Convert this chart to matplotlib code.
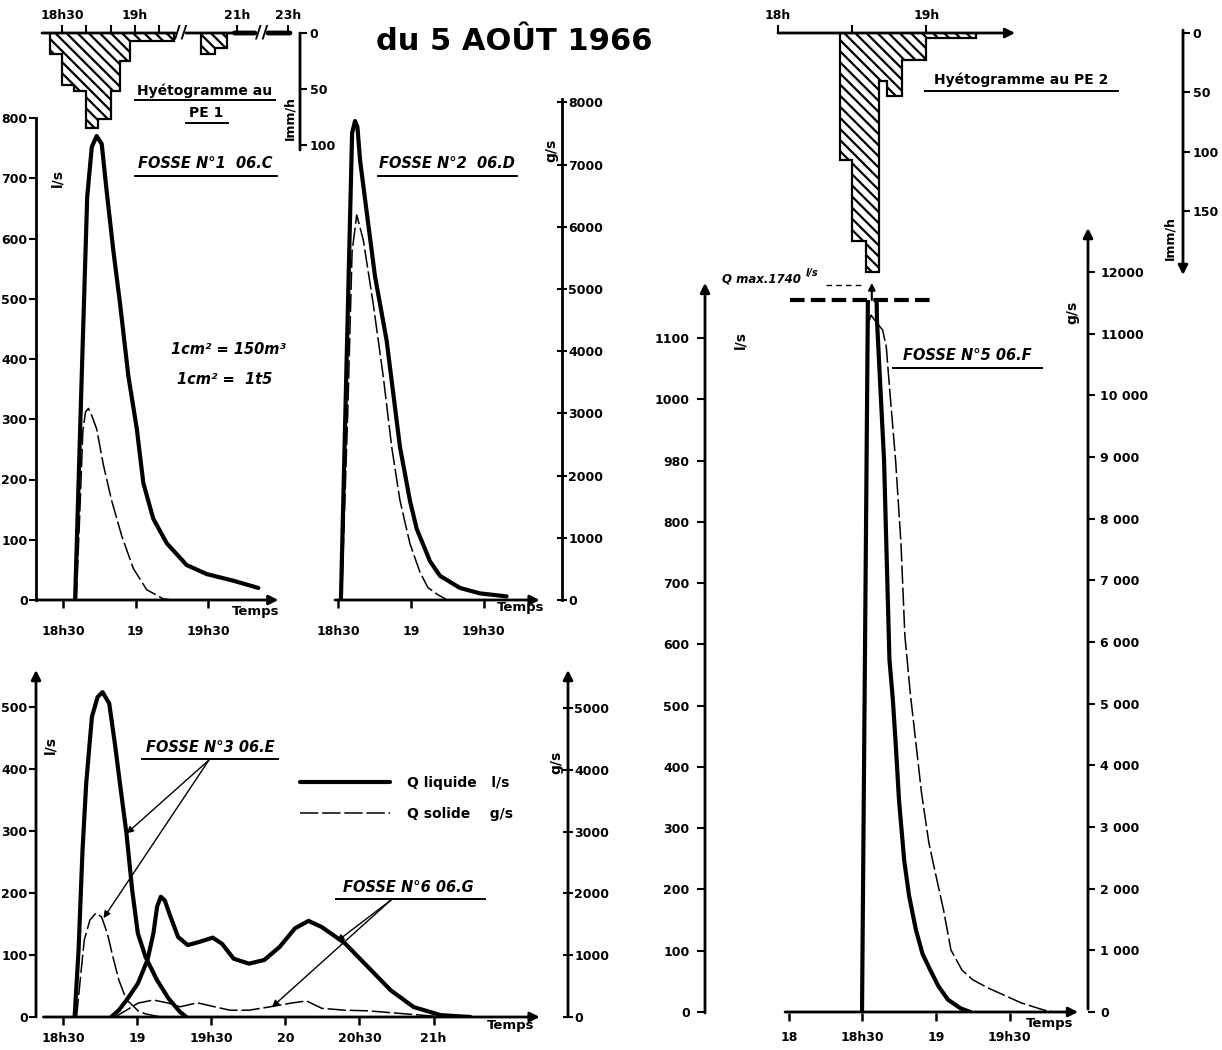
import numpy as np
import matplotlib
matplotlib.use("Agg")
import matplotlib.pyplot as plt
from matplotlib.lines import Line2D

plt.rcParams['font.family'] = ['DejaVu Sans']
plt.rcParams['font.weight'] = 'bold'
plt.rcParams['hatch.linewidth'] = 1.6

W, H = 1222, 1050

# ---- data : time in minutes after 18h00, Q liquide in l/s, Q solide in g/s ----
# hyetogrammes (mm/h)
pe1_edges = [25, 30, 35, 40, 45, 50, 54, 58, 76]
pe1_mmh = [19, 46, 52, 85, 77, 52, 25, 7.5]
pe1_late_edges = [165, 171, 176]
pe1_late_mmh = [19, 13]
pe2_edges = [25, 30, 35.5, 41, 44, 50, 60, 80]
pe2_mmh = [107, 175, 201, 40, 53, 23, 4]

# fosse 1  06.C
f1_t = [35, 37.5, 40, 41.9, 43.9, 46, 48, 50.8, 53.6, 57, 60.5, 63.2, 67.3, 72.9, 81.1, 89.4, 100.4, 110.7]
f1_q = [0, 340, 669, 752, 770, 757, 680, 580, 491, 372, 284, 194, 135, 94, 58, 43, 32, 20]
f1_ts = [35.5, 37, 38.2, 39.3, 40.5, 42, 43.9, 46.7, 50.1, 54.3, 59.1, 64.6, 71.4, 75]
f1_s = [0, 1500, 2800, 3120, 3180, 3050, 2840, 2240, 1650, 1060, 520, 170, 20, 0]

# fosse 2  06.D
f2_t = [31.2, 33.5, 35.8, 37, 38, 39.1, 42, 45.2, 50, 55.5, 59.6, 62.4, 67.9, 72, 80.2, 88.4, 99.4]
f2_q = [0, 390, 775, 795, 785, 729, 638, 538, 431, 254, 165, 118, 64, 40, 20, 11, 6]
f2_ts = [31.5, 34, 35.8, 37.7, 40.4, 44.5, 48.6, 52.1, 55.5, 59.6, 63.7, 67, 71.3, 75]
f2_s = [0, 3000, 5600, 6190, 5790, 4760, 3600, 2460, 1600, 907, 450, 200, 80, 0]

# fosse 3  06.E
f3_t = [34.7, 36.3, 37.9, 39.4, 41.7, 44, 46, 48.7, 51, 53.4, 55.7, 58, 60.3, 63.4, 68, 72.7, 77.4, 80]
f3_q = [0, 108, 269, 377, 484, 516, 524, 506, 441, 366, 296, 205, 135, 97, 60, 30, 8, 0]
f3_ts = [35.5, 37.1, 38.6, 40.9, 43.3, 45.6, 47.9, 50.2, 52.6, 55.7, 57.2, 60.4, 63.4, 69.6]
f3_s = [0, 650, 1245, 1570, 1680, 1620, 1360, 975, 600, 275, 225, 100, 50, 0]

# fosse 6  06.G
f6_t = [49.5, 52.6, 55.7, 60.3, 64.2, 66.6, 68.1, 69.6, 71.2, 73.5, 76.6, 80.5, 85.1, 90.6, 94.4,
        99.1, 105.3, 111.5, 117.7, 123.9, 129.4, 134.8, 144.1, 153.4, 162.7, 172, 182.9, 195]
f6_q = [0, 11, 27, 54, 92, 135, 178, 194, 188, 162, 129, 116, 121, 128, 118,
        94, 86, 92, 113, 143, 155, 145, 119, 81, 43, 16, 3, 0]
f6_ts = [51, 55.7, 60.4, 66.6, 72.7, 77.4, 84.4, 91.4, 97.6, 105.3, 113.1, 122.4, 128.6,
         134.8, 144.1, 153.4, 165.8, 175, 185]
f6_s = [0, 110, 225, 275, 225, 165, 230, 165, 110, 110, 160, 225, 260, 140, 110, 100, 60, 30, 0]

# fosse 5  06.F  (Q max 1740 l/s)
f5_t = [29.8, 33.4, 35.9, 38.8, 41, 42.4, 43.7, 44.9, 47, 49, 51.8, 54.5, 57.6, 61, 64.9, 70, 74]
f5_q = [0, 1740, 1130, 900, 575, 509, 428, 346, 248, 190, 134, 95, 69, 42, 20, 6, 0]
f5_ts = [29.8, 32.4, 33.5, 35.9, 38.2, 39.7, 41.2, 43.5, 45.7, 47.3, 49.5, 51.8, 54.1, 57.1, 60.1,
         63.1, 66.1, 70.6, 75.1, 81.2, 85.7, 94.9, 104, 108]
f5_s = [0, 11170, 11300, 11170, 11060, 10790, 10040, 8950, 7600, 6100, 5170, 4360, 3550, 2740, 2190,
        1650, 1005, 680, 520, 390, 310, 146, 32, 0]

legend_labels = ["Q liquide   l/s", "Q solide    g/s"]

LIQ = dict(color='k', lw=3, solid_capstyle='round', solid_joinstyle='round')
SOL = dict(color='k', lw=1.1, dashes=(12, 2.5))
ARR = dict(arrowstyle='-|>', lw=2, color='k', mutation_scale=14, shrinkA=0, shrinkB=0)
BAR = dict(arrowstyle='-', lw=2, color='k', shrinkA=0, shrinkB=0)
HATCH = dict(baseline=0, fill=True, facecolor='none', edgecolor='k', hatch='\\\\\\', lw=1.6)

fig = plt.figure(figsize=(W / 100, H / 100), dpi=100)


def place(box, xmap, ymap):
    x0, x1, y0, y1 = box
    xa, xb = xmap
    yc, yd = ymap
    ax = fig.add_axes([x0 / W, 1 - y1 / H, (x1 - x0) / W, (y1 - y0) / H])
    ax.set_xlim((x0 - xa) / xb, (x1 - xa) / xb)
    ax.set_ylim((yc - y1) / yd, (yc - y0) / yd)
    ax.patch.set_visible(False)
    for s in ax.spines.values():
        s.set_visible(False)
    return ax


def twin(ax, box, ymap):
    b = ax.twinx()
    yc, yd = ymap
    b.set_ylim((yc - box[3]) / yd, (yc - box[2]) / yd)
    for s in b.spines.values():
        s.set_visible(False)
    return b


def line(ax, p0, p1, style=ARR, coords='data'):
    ax.annotate('', xy=p1, xytext=p0, xycoords=coords, textcoords=coords,
                arrowprops=style, annotation_clip=False)


def ftext(x, y, s, **kw):
    kw.setdefault('ha', 'center')
    kw.setdefault('va', 'center')
    fig.text(x / W, 1 - y / H, s, **kw)


def uline(x0, x1, y, lw=1.4):
    fig.add_artist(Line2D([x0 / W, x1 / W], [1 - y / H, 1 - y / H], color='k', lw=lw))


def time_ticks(ax, pos, labels, pad=12):
    ax.set_xticks(pos)
    ax.set_xticklabels(labels)
    ax.tick_params(axis='x', direction='out', length=6, width=1.8, pad=pad, labelsize=9)


# ---------------- fosse 1 ----------------
box1 = (36, 285, 112, 600)
ax1 = place(box1, (63 - 30 * 2.42, 2.42), (600, 0.6025))
ax1b = twin(ax1, box1, (600, 0.06025))
ax1b.set_yticks([])
ax1.plot(f1_t, f1_q, **LIQ)
ax1b.plot(f1_ts, f1_s, **SOL)
ax1.spines['left'].set_visible(True)
ax1.spines['left'].set_linewidth(2)
ax1.spines['left'].set_bounds(0, 800)
ax1.set_yticks(range(0, 801, 100))
ax1.tick_params(axis='y', direction='out', length=5, width=1.5, pad=1, labelsize=9)
line(ax1, (ax1.get_xlim()[0], 0), (119, 0))
time_ticks(ax1, [30, 60, 90], ['18h30', '19', '19h30'])
ftext(256, 611, 'Temps', fontsize=9.5)
ftext(57, 178, 'l/s', rotation=90, fontsize=10)
ftext(205, 164, 'FOSSE N°1  06.C', fontsize=10.5, style='italic')
uline(135, 277, 176)
ftext(228, 350, '1cm² = 150m³', fontsize=10.5, style='italic')
ftext(225, 380, '1cm² =  1t5', fontsize=10.5, style='italic')

# ---------------- fosse 2 ----------------
box2 = (335, 562, 95, 600)
ax2 = place(box2, (338 - 30 * 2.43, 2.43), (600, 0.6025))
ax2b = twin(ax2, box2, (600, 0.0622))
ax2.set_yticks([])
ax2.plot(f2_t, f2_q, **LIQ)
ax2b.plot(f2_ts, f2_s, **SOL)
ax2b.spines['right'].set_visible(True)
ax2b.spines['right'].set_linewidth(2)
ax2b.spines['right'].set_bounds(0, 8050)
ax2b.set_yticks(range(0, 8001, 1000))
ax2b.tick_params(axis='y', direction='inout', length=7, width=1.5, pad=1, labelsize=9)
line(ax2, (ax2.get_xlim()[0], 0), (113, 0))
time_ticks(ax2, [30, 60, 90], ['18h30', '19', '19h30'])
ftext(521, 607, 'Temps', fontsize=9.5)
ftext(551, 150, 'g/s', rotation=90, fontsize=10)
ftext(447, 164, 'FOSSE N°2  06.D', fontsize=10.5, style='italic')
uline(378, 517, 176)

# ---------------- fosses 3 et 6 ----------------
box3 = (36, 568, 670, 1017)
ax3 = place(box3, (63 - 30 * 2.47, 2.47), (1017, 0.62))
ax3b = twin(ax3, box3, (1017, 0.0618))
h_liq, = ax3.plot(f3_t, f3_q, **LIQ)
h_sol, = ax3b.plot(f3_ts, f3_s, **SOL)
ax3.plot(f6_t, f6_q, **LIQ)
ax3b.plot(f6_ts, f6_s, **SOL)
line(ax3, (0, 0), (0, 1), coords='axes fraction')
line(ax3, (1, 0), (1, 1), coords='axes fraction')
ax3.set_yticks(range(0, 501, 100))
ax3.tick_params(axis='y', direction='out', length=5, width=1.5, pad=1, labelsize=9)
ax3b.set_yticks(range(0, 5001, 1000))
ax3b.tick_params(axis='y', direction='inout', length=7, width=1.5, pad=1, labelsize=9)
line(ax3, (ax3.get_xlim()[0] + 3, 0), (223, 0))
time_ticks(ax3, [30, 60, 90, 120, 150, 180], ['18h30', '19', '19h30', '20', '20h30', '21h'], pad=5)
ftext(511, 1026, 'Temps', fontsize=9.5)
ftext(50, 745, 'l/s', rotation=90, fontsize=10)
ftext(556, 762, 'g/s', rotation=90, fontsize=10)
ftext(210, 748, 'FOSSE N°3 06.E', fontsize=10.5, style='italic')
uline(142, 278, 759)
ftext(408, 888, 'FOSSE N°6 06.G', fontsize=10.5, style='italic')
uline(336, 485, 899)
thin = dict(arrowstyle='-|>', lw=1, color='k', mutation_scale=10, shrinkA=0, shrinkB=0)
ax3.annotate('', xy=(55.7, 296), xytext=(209, H - 760), textcoords='figure pixels', arrowprops=thin)
ax3b.annotate('', xy=(46.4, 1600), xytext=(209, H - 760), textcoords='figure pixels', arrowprops=thin)
ax3.annotate('', xy=(140.9, 122), xytext=(391, H - 900), textcoords='figure pixels', arrowprops=thin)
ax3b.annotate('', xy=(114.6, 160), xytext=(391, H - 900), textcoords='figure pixels', arrowprops=thin)
ax3.legend([h_liq, h_sol], legend_labels, loc='upper left', frameon=False,
           bbox_to_anchor=(300 / W, 1 - 776 / H), bbox_transform=fig.transFigure,
           handlelength=6.5, handletextpad=1.2, labelspacing=1.2, fontsize=10,
           borderaxespad=0, borderpad=0)

# ---------------- fosse 5 ----------------
box5 = (705, 1088, 300, 1013)
xmap5 = (789, 2.45)
ax5 = place(box5, xmap5, (1012, 0.6127))
ax5r = place((705, 1088, 228, 1013), xmap5, (1012, 0.06167))
ax5.plot(f5_t, f5_q, **LIQ)
ax5r.plot(f5_ts, f5_s, **SOL)
line(ax5, (0, 0), (0, 1.024), coords='axes fraction')
line(ax5r, (1, 0.005), (1, 1), coords='axes fraction')
ax5.set_yticks(range(0, 1101, 100))
ax5.set_yticklabels(['0', '100', '200', '300', '400', '500', '600', '700', '800', '980', '1000', '1100'])
ax5.tick_params(axis='y', direction='out', length=6, width=1.5, pad=5, labelsize=9)
ax5r.set_xticks([])
ax5r.yaxis.tick_right()
ax5r.set_yticks(range(0, 12001, 1000))
ax5r.set_yticklabels(['0', '1 000', '2 000', '3 000', '4 000', '5 000', '6 000', '7 000',
                      '8 000', '9 000', '10 000', '11000', '12000'])
ax5r.tick_params(axis='y', direction='out', length=5, width=1.5, pad=4, labelsize=9)
line(ax5, (-1.6, 0), (118, 0))
time_ticks(ax5, [0, 30, 60, 90], ['18', '18h30', '19', '19h30'], pad=7)
ftext(1050, 1023, 'Temps', fontsize=9.5)
ftext(740, 340, 'l/s', rotation=90, fontsize=10)
ftext(1072, 312, 'g/s', rotation=90, fontsize=10)
ftext(967, 356, 'FOSSE N°5 06.F', fontsize=10.5, style='italic')
uline(893, 1042, 368)
qtop = ax5.get_ylim()[1]
ax5.plot([0.4, 59.6], [qtop, qtop], color='k', lw=3, dashes=(3.5, 1.5), clip_on=False)
ax5.annotate('', xy=(33.8, 1190), xytext=(33.8, qtop), arrowprops=dict(thin, lw=1.5),
             annotation_clip=False)
ftext(722, 283, 'Q max.1740', fontsize=8.5, style='italic', ha='left', va='baseline')
ftext(806, 276, 'l/s', fontsize=7, style='italic', ha='left', va='baseline')
fig.add_artist(Line2D([826 / W, 862 / W], [1 - 285 / H] * 2, color='k', lw=1, dashes=(4, 3)))

# ---------------- hyetogramme PE 1 (drawn last, on top) ----------------
cut1, cut2 = 78, 177   # minutes removed by the two axis breaks
axp1 = place((42, 300, 33, 150), (62 - 30 * 2.43, 2.43), (33, -1.12))
axp1.set_zorder(5)
axp1.stairs(pe1_mmh, pe1_edges, **HATCH)
axp1.stairs(pe1_late_mmh, np.array(pe1_late_edges) - cut1, **HATCH)
t0 = axp1.get_xlim()[0]
line(axp1, (t0, 0), (76.5, 0), BAR)
line(axp1, (81, 0), (101, 0), BAR)
line(axp1, (101, 0), (109.4, 0), dict(BAR, lw=3.5))
line(axp1, (114.8, 0), (123.8, 0), dict(BAR, lw=3.5))
axp1.text(78.7, 0, '//', ha='center', va='center', fontsize=13)
axp1.text(112.1, 0, '//', ha='center', va='center', fontsize=13)
axp1.xaxis.tick_top()
axp1.set_xticks([30, 40, 50, 60, 70, 180 - cut1, 300 - cut2])
axp1.set_xticklabels(['18h30', '', '', '19h', '', '21h', '23h'])
axp1.tick_params(axis='x', direction='out', length=6, width=1.5, pad=2, labelsize=9)
axp1.yaxis.tick_right()
axp1.set_yticks([0, 50, 100])
axp1.tick_params(axis='y', direction='out', length=5, width=1.5, pad=2, labelsize=9)
line(axp1, (1, 0), (1, 1), BAR, coords='axes fraction')
ftext(290, 118, 'Imm/h', rotation=90, fontsize=9)
ftext(205, 91, 'Hyétogramme au', fontsize=10)
uline(135, 275, 100)
ftext(206, 113, 'PE 1', fontsize=10)
uline(186, 228, 123)

# ---------------- hyetogramme PE 2 ----------------
axp2 = place((778, 1183, 33, 275), (778, 2.47), (33, -1.19))
axp2.set_zorder(5)
axp2.stairs(pe2_mmh, pe2_edges, **HATCH)
line(axp2, (0, 0), (96, 0))
axp2.xaxis.tick_top()
axp2.set_xticks([0, 30, 60])
axp2.set_xticklabels(['18h', '', '19h'])
axp2.tick_params(axis='x', direction='out', length=6, width=1.5, pad=2, labelsize=9)
axp2.yaxis.tick_right()
axp2.set_yticks([0, 50, 100, 150])
axp2.tick_params(axis='y', direction='out', length=5, width=1.5, pad=2, labelsize=9)
line(axp2, (1, 1.012), (1, 0), coords='axes fraction')
ftext(1170, 238, 'Imm/h', rotation=90, fontsize=9)
ftext(1021, 80, 'Hyétogramme au PE 2', fontsize=10)
uline(925, 1118, 91)

# ---------------- title ----------------
ftext(514, 42, 'du 5 AOÛT 1966', fontsize=22)

fig.savefig('out.png', dpi=100, facecolor='white')
